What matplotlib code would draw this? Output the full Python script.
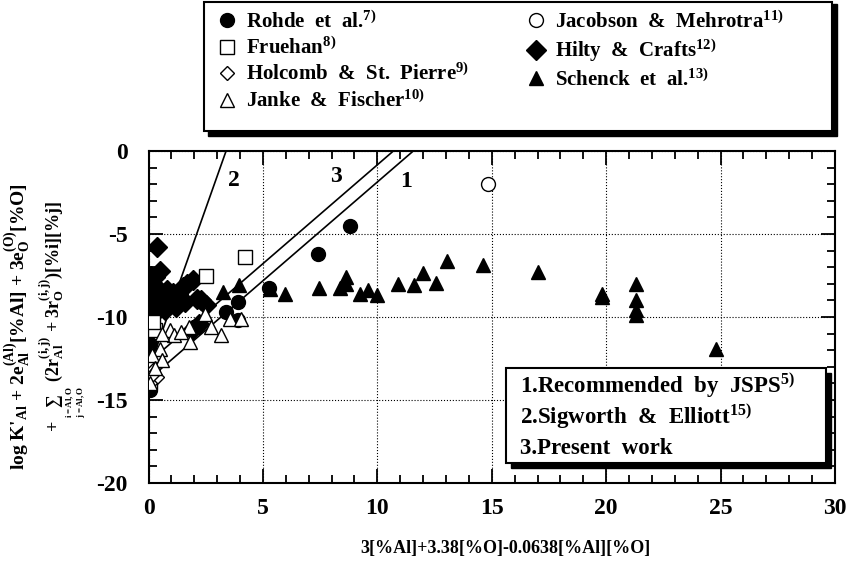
import numpy as np
import matplotlib
matplotlib.use("Agg")
import matplotlib.pyplot as plt
from matplotlib.patches import Rectangle
from matplotlib.ticker import MultipleLocator

plt.rcParams['font.family'] = ['Liberation Serif', 'DejaVu Serif']
plt.rcParams['font.weight'] = 'bold'
plt.rcParams['axes.unicode_minus'] = False
plt.rcParams['mathtext.fontset'] = 'custom'
plt.rcParams['mathtext.rm'] = 'Liberation Serif:bold'
plt.rcParams['mathtext.it'] = 'Liberation Serif:italic:bold'
plt.rcParams['mathtext.bf'] = 'Liberation Serif:bold'

# DATA
rohde_x = [0.05, 0.05, 2.2, 3.4, 3.9, 3.9, 5.25, 7.4, 8.8]
rohde_y = [-14.4, -11.6, -10.4, -9.7, -9.1, -10.2, -8.25, -6.2, -4.5]

fruehan_x = [4.2, 2.5, 0.3, 0.2, 0.05, 0.05]
fruehan_y = [-6.4, -7.5, -10.8, -10.3, -13.3, -13.9]

holcomb_x = [0.1, 0.3, 0.2, 0.35, 0.05, 0.15]
holcomb_y = [-12.8, -12.4, -13.2, -13.6, -14.0, -13.5]

janke_x = [0.95, 1.1, 1.75, 2.45, 2.75, 3.15, 1.8, 0.6, 0.5, 0.15, 0.6,
           0.07, 3.55, 4.05, 0.3, 1.4]
janke_y = [-10.8, -11.1, -10.6, -9.8, -10.6, -11.1, -11.5, -11.0, -11.9,
           -12.3, -12.6, -14.0, -10.1, -10.1, -13.1, -10.9]

jacobson_x = [14.85]
jacobson_y = [-2.0]

hilty_x = [0.35, 0.1, 0.5, 0.3, 0.2, 0.0, 0.1, 0.4, 0.6, 0.8, 0.3, 0.0,
           0.5, 0.9, 1.1, 1.3, 1.5, 1.95, 1.7, 2.1, 2.3, 2.5, 1.2, 1.6,
           0.7, 0.2, 0.1, 1.05, 2.2, 1.9]
hilty_y = [-5.8, -7.5, -7.2, -7.6, -8.0, -8.5, -8.8, -8.3, -8.6, -8.4, -9.0,
           -9.2, -9.2, -9.0, -8.8, -8.6, -8.2, -7.8, -8.0, -8.9, -9.0, -9.3,
           -9.4, -9.1, -9.6, -9.8, -10.0, -8.55, -10.4, -10.8]

schenck_x = [0.05, 0.07, 3.25, 3.95, 5.3, 5.95, 7.45, 8.35, 8.65, 8.65,
             9.25, 9.6, 10.0, 10.9, 11.6, 12.0, 12.55, 13.05, 14.6, 17.0,
             19.8, 19.8, 21.3, 21.3, 21.3, 21.3, 24.8]
schenck_y = [-13.7, -12.0, -8.5, -8.1, -8.3, -8.6, -8.25, -8.25, -7.6, -8.0,
             -8.6, -8.4, -8.7, -8.0, -8.05, -7.35, -7.95, -6.6, -6.85, -7.3,
             -8.6, -8.8, -8.0, -8.95, -9.6, -9.9, -11.9]

# model lines
line1_x = [0.0, 11.57]
line1_y = [-13.77, 0.0]
line2_x = [0.0, 3.39]
line2_y = [-13.2, 0.0]
line3_x = [0.0, 10.7]
line3_y = [-12.74, 0.0]

fig = plt.figure(figsize=(8.57, 5.64), dpi=100)
W, H = 857.0, 564.0
ax = fig.add_axes([148.5 / W, 1 - 483 / H, (835 - 148.5) / W, (483 - 151) / H])

ms = 10
ax.plot(hilty_x, hilty_y, 'D', ms=ms, color='black', ls='none', zorder=3)
ax.plot(schenck_x, schenck_y, '^', ms=ms, color='black', ls='none', zorder=3)
ax.plot(rohde_x, rohde_y, 'o', ms=ms, color='black', ls='none', zorder=3)
ax.plot(fruehan_x, fruehan_y, 's', ms=ms, mfc='white', mec='black', mew=1.0,
        ls='none', zorder=4)
ax.plot(holcomb_x, holcomb_y, 'D', ms=7, mfc='white', mec='black', mew=1.0,
        ls='none', zorder=4)
ax.plot(janke_x, janke_y, '^', ms=ms, mfc='white', mec='black', mew=1.0,
        ls='none', zorder=4)
ax.plot(jacobson_x, jacobson_y, 'o', ms=ms, mfc='white', mec='black', mew=1.0,
        ls='none', zorder=4)

for lx, ly in [(line1_x, line1_y), (line2_x, line2_y), (line3_x, line3_y)]:
    ax.plot(lx, ly, color='black', lw=1.2, zorder=2)

ax.text(3.75, -1.75, '2', fontsize=17, fontweight='bold', ha='center', va='center')
ax.text(8.2, -1.55, '3', fontsize=17, fontweight='bold', ha='center', va='center')
ax.text(11.25, -1.85, '1', fontsize=17, fontweight='bold', ha='center', va='center')

ax.set_xlim(0, 30)
ax.set_ylim(-20, 0)
ax.xaxis.set_major_locator(MultipleLocator(5))
ax.xaxis.set_minor_locator(MultipleLocator(1))
ax.yaxis.set_major_locator(MultipleLocator(5))
ax.yaxis.set_minor_locator(MultipleLocator(1))
ax.tick_params(which='both', direction='in', top=True, right=True, width=1.3)
ax.tick_params(which='major', length=10, labelsize=17)
ax.tick_params(which='minor', length=6)
ax.tick_params(axis='x', which='major', pad=11)
ax.tick_params(axis='y', which='major', pad=15)
for lab in ax.get_xticklabels() + ax.get_yticklabels():
    lab.set_fontweight('bold')
for sp in ax.spines.values():
    sp.set_linewidth(1.5)
ax.grid(True, which='major', ls=':', color='black', lw=0.8)

ax.set_xlabel('3[%Al]+3.38[%O]-0.0638[%Al][%O]', fontsize=13, fontweight='bold')
ax.xaxis.set_label_coords((505 - 148.5) / 686.5, -(548 - 483) / 332.0)
ax.xaxis.label.set_va('center')

fig.text(17 / W, 1 - 327 / H,
         r"log K$'_{\mathrm{Al}}$ + 2e$_{\mathrm{Al}}^{(\mathrm{Al})}$[%Al] + 3e$_{\mathrm{O}}^{(\mathrm{O})}$[%O]",
         rotation=90, fontsize=14, fontweight='bold', ha='center', va='center')
fig.text(63 / W, 1 - 316 / H,
         r"+ $\sum_{\genfrac{}{}{0}{}{\mathrm{i=Al,O}}{\mathrm{j=Al,O}}}$ (2r$_{\mathrm{Al}}^{(\mathrm{i,j})}$ + 3r$_{\mathrm{O}}^{(\mathrm{i,j})}$)[%i][%j]",
         rotation=90, fontsize=13, fontweight='bold', ha='center', va='center')

# legend box at top with shadow
fig.patches.append(Rectangle((208 / W, 1 - 136 / H), 629 / W, 132 / H,
                             transform=fig.transFigure, facecolor='black',
                             edgecolor='black', zorder=0))
fig.patches.append(Rectangle((204 / W, 1 - 131 / H), 628 / W, 129 / H,
                             transform=fig.transFigure, facecolor='white',
                             edgecolor='black', lw=1.5, zorder=1))

h = ax.get_lines()
left_handles = [h[2], h[3], h[4], h[5]]
left_labels = [r"Rohde  et  al.$^{7)}$", r"Fruehan$^{8)}$",
               r"Holcomb  &  St.  Pierre$^{9)}$", r"Janke  &  Fischer$^{10)}$"]
right_handles = [h[6], h[0], h[1]]
right_labels = [r"Jacobson  &  Mehrotra$^{11)}$", r"Hilty  &  Crafts$^{12)}$",
                r"Schenck  et  al.$^{13)}$"]
leg_kw = dict(loc='upper left', frameon=False,
              prop={'size': 15, 'weight': 'bold'}, handlelength=0.9,
              handletextpad=0.45, labelspacing=0.24, borderaxespad=0,
              borderpad=0)
leg1 = fig.legend(left_handles, left_labels,
                  bbox_to_anchor=(218 / W, 1 - 11 / H), **leg_kw)
leg2 = fig.legend(right_handles, right_labels,
                  bbox_to_anchor=(527 / W, 1 - 11 / H), **leg_kw)

# lower box with shadow
fig.patches.append(Rectangle((511 / W, 1 - 468 / H), 320 / W, 95 / H,
                             transform=fig.transFigure, facecolor='black',
                             edgecolor='black', zorder=5))
fig.patches.append(Rectangle((506 / W, 1 - 463 / H), 320 / W, 95 / H,
                             transform=fig.transFigure, facecolor='white',
                             edgecolor='black', lw=1.5, zorder=6))
box_lines = [r"1.Recommended  by  JSPS$^{5)}$", r"2.Sigworth  &  Elliott$^{15)}$",
             r"3.Present  work"]
for i, s in enumerate(box_lines):
    fig.text(520 / W, 1 - (386 + 31 * i) / H, s, fontsize=16.5, fontweight='bold',
             ha='left', va='center', zorder=7)

fig.savefig('out.png', dpi=100)
